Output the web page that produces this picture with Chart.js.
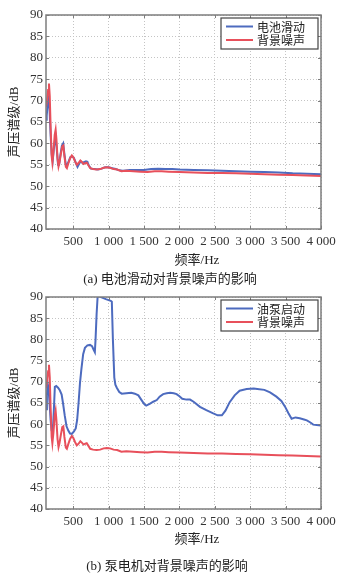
<!DOCTYPE html>
<html>
<head>
<meta charset="utf-8">
<script src="https://cdn.jsdelivr.net/npm/chart.js@4.4.0/dist/chart.umd.min.js"></script>
<style>
body { margin: 0; background: #fff; width: 349px; height: 581px; position: relative; overflow: hidden;
       font-family: "Liberation Serif", "Noto Sans CJK SC", serif; color: #222; }
.cv { position: absolute; left: 0; width: 349px; height: 250px; }
.txt { position: absolute; font-size: 13px; white-space: nowrap; transform: translate(-50%, -50%); }
</style>
</head>
<body>
<div class="cv" style="top:0"><canvas id="chartA"></canvas></div>
<div class="txt" style="left:197px;top:258px">频率/Hz</div>
<div class="txt" style="left:170px;top:277px">(a) 电池滑动对背景噪声的影响</div>
<div class="cv" style="top:282px"><canvas id="chartB"></canvas></div>
<div class="txt" style="left:197px;top:537px">频率/Hz</div>
<div class="txt" style="left:167px;top:564px">(b) 泵电机对背景噪声的影响</div>
<script>
// axis ticks
const xTickValues = [500, 1000, 1500, 2000, 2500, 3000, 3500, 4000];
const xTickLabels = ['500', '1 000', '1 500', '2 000', '2 500', '3 000', '3 500', '4 000'];
const yTickValues = [40, 45, 50, 55, 60, 65, 70, 75, 80, 85, 90];

// background noise (same in both plots)
const noiseFreq = [115, 130, 145, 157, 168, 180, 195, 205, 220, 238, 251, 262, 278, 292, 305, 325, 345, 360, 375, 395,
  410, 430, 455, 480, 500, 525, 550, 575, 600, 625, 645, 670, 690, 710, 740, 780, 830, 880, 930, 975,
  1020, 1070, 1120, 1180, 1250, 1350, 1450, 1550, 1650, 1750, 1850, 2000, 2200, 2400, 2600, 2800, 3000,
  3200, 3400, 3600, 3800, 4000];
const noiseLevel = [68.5, 70, 72.5, 74, 71, 64, 57, 55.5, 58, 62, 63.2, 61, 56.5, 54.6, 55.5, 57.5, 59.3, 59.5, 57, 54.5,
  54.2, 55.3, 56.5, 57.2, 56.8, 55.8, 55, 55.4, 56, 55.6, 55.2, 55.4, 55.5, 55, 54.2, 54, 53.9, 54, 54.3, 54.4,
  54.3, 54.0, 53.9, 53.5, 53.6, 53.5, 53.4, 53.3, 53.5, 53.5, 53.4, 53.3, 53.2, 53.1, 53.1, 53.0, 52.9,
  52.8, 52.7, 52.6, 52.5, 52.4];

// (a) battery sliding
const slideFreq = [115, 125, 140, 152, 165, 180, 195, 210, 230, 250, 265, 285, 300, 320, 340, 358, 375, 395, 410, 435,
  460, 485, 510, 535, 560, 585, 605, 630, 650, 680, 700, 720, 750, 800, 850, 900, 950, 1000, 1050, 1100,
  1150, 1200, 1300, 1400, 1500, 1600, 1700, 1800, 1900, 2000, 2200, 2400, 2600, 2800, 3000, 3200, 3400,
  3600, 3800, 4000];
const slideLevel = [65.5, 66.5, 69.5, 70.5, 68, 62, 57.5, 56, 59.5, 61.5, 59, 55, 55, 57.5, 59.5, 60, 57.5, 55, 54.8, 55.8,
  56.8, 57, 56.6, 55.5, 54.5, 55.3, 55.8, 55.4, 55.6, 55.8, 55.7, 54.8, 54.1, 54, 53.9, 54.1, 54.4, 54.4, 54.2, 54,
  53.7, 53.6, 53.8, 53.8, 53.8, 54, 54.1, 54, 54, 53.9, 53.8, 53.7, 53.6, 53.5, 53.4, 53.3, 53.2,
  53.0, 52.9, 52.8];

// (b) oil pump start
const pumpFreq = [115, 128, 140, 150, 165, 180, 195, 210, 225, 240, 260, 285, 310, 336, 355, 380, 405, 430, 455, 480,
  510, 535, 555, 575, 595, 615, 640, 665, 700, 736, 765, 790, 805, 815, 830, 845, 900, 960, 1030, 1045,
  1060, 1080, 1095, 1115, 1150, 1185, 1250, 1320, 1370, 1420, 1460, 1500, 1530, 1580, 1630, 1680, 1720,
  1770, 1820, 1870, 1920, 1960, 2000, 2040, 2100, 2150, 2200, 2290, 2380, 2470, 2540, 2600, 2650, 2710,
  2780, 2850, 2950, 3050, 3100, 3200, 3280, 3370, 3440, 3490, 3540, 3585, 3640, 3700, 3760, 3800, 3850,
  3890, 3940, 4000];
const pumpLevel = [63.5, 67, 69.5, 68.5, 65, 61, 58.5, 58, 63, 68.8, 69, 68.6, 68, 67, 65, 62, 59.5, 58.5, 57.8, 57.7,
  58.3, 59, 61, 65, 69.7, 73, 76.5, 78, 78.6, 78.7, 78.4, 77.5, 77, 80, 86, 90.3, 89.9, 89.5, 89.1, 88.9,
  80, 71, 69.3, 68.6, 67.6, 67.2, 67.3, 67.4, 67.2, 66.8, 65.8, 64.8, 64.4, 64.8, 65.3, 65.7, 66.5,
  67.1, 67.3, 67.4, 67.3, 67.1, 66.6, 66, 65.8, 65.8, 65.3, 64.1, 63.3, 62.6, 62.1, 62.1, 63.2, 65.2,
  66.8, 67.9, 68.3, 68.4, 68.3, 68.1, 67.5, 66.5, 65.5, 64.2, 62.6, 61.3, 61.6, 61.4, 61.1, 60.9, 60.4,
  59.9, 59.8, 59.7];

const BLUE = '#4d6bbf';
const RED = '#e8505b';
const serif = '"Liberation Serif", "Noto Sans CJK SC", serif';
const cjk = '"Noto Sans CJK SC", sans-serif';

function points(xs, ys) {
  return xs.map((f, i) => ({ x: f, y: ys[i] }));
}

// box, inward ticks and legend drawn MATLAB style
const framePlugin = {
  id: 'frame',
  afterDatasetsDraw(chart) {
    const { ctx, chartArea: a, scales: { x, y } } = chart;
    ctx.save();
    ctx.strokeStyle = '#7d7d7d';
    ctx.lineWidth = 1;
    ctx.beginPath();
    x.ticks.forEach(t => {
      const px = Math.round(x.getPixelForValue(t.value)) + 0.5;
      ctx.moveTo(px, a.bottom); ctx.lineTo(px, a.bottom - 3);
      ctx.moveTo(px, a.top); ctx.lineTo(px, a.top + 3);
    });
    y.ticks.forEach(t => {
      const py = Math.round(y.getPixelForValue(t.value)) + 0.5;
      ctx.moveTo(a.left, py); ctx.lineTo(a.left + 3, py);
      ctx.moveTo(a.right, py); ctx.lineTo(a.right - 3, py);
    });
    ctx.stroke();
    ctx.lineWidth = 1.5;
    ctx.strokeRect(a.left, a.top, a.right - a.left, a.bottom - a.top);

    // legend
    const ds = chart.data.datasets;
    ctx.font = '12px ' + cjk;
    const textW = Math.max(...ds.map(d => ctx.measureText(d.label).width));
    const w = 5 + 27 + 4 + textW + 13;
    const h = 31;
    const bx = a.right - 3 - w;
    const by = a.top + 3;
    ctx.fillStyle = '#fff';
    ctx.fillRect(bx, by, w, h);
    ctx.strokeStyle = '#444';
    ctx.lineWidth = 1.2;
    ctx.strokeRect(bx, by, w, h);
    ds.forEach((d, i) => {
      const ry = by + 8.5 + i * 13.5;
      ctx.strokeStyle = d.borderColor;
      ctx.lineWidth = 2;
      ctx.beginPath();
      ctx.moveTo(bx + 5, ry); ctx.lineTo(bx + 32, ry);
      ctx.stroke();
      ctx.fillStyle = '#222';
      ctx.textBaseline = 'middle';
      ctx.fillText(d.label, bx + 36, ry + 0.5);
    });
    ctx.restore();
  }
};

function makeChart(id, blueLabel, blueData, xHeight) {
  return new Chart(document.getElementById(id), {
    type: 'line',
    data: {
      datasets: [
        { label: blueLabel, data: blueData, borderColor: BLUE, borderWidth: 2, pointRadius: 0, tension: 0, order: 1 },
        { label: '背景噪声', data: points(noiseFreq, noiseLevel), borderColor: RED, borderWidth: 2, pointRadius: 0, tension: 0, order: 0 }
      ]
    },
    options: {
      responsive: true,
      maintainAspectRatio: false,
      animation: false,
      layout: { padding: { top: 15, right: 28, left: 0, bottom: 0 } },
      plugins: { legend: { display: false }, tooltip: { enabled: false } },
      scales: {
        x: {
          type: 'linear',
          min: 115,
          max: 4000,
          afterBuildTicks: s => { s.ticks = xTickValues.map(v => ({ value: v })); },
          afterFit: s => { s.height = xHeight; },
          ticks: {
            autoSkip: false,
            maxRotation: 0,
            padding: 5,
            color: '#333',
            font: { family: serif, size: 13 },
            callback: v => xTickLabels[xTickValues.indexOf(v)]
          },
          grid: { color: '#c4c4c4', drawTicks: false, lineWidth: 1 },
          border: { display: false, dash: [1, 2] }
        },
        y: {
          min: 40,
          max: 90,
          afterBuildTicks: s => { s.ticks = yTickValues.map(v => ({ value: v })); },
          afterFit: s => { s.width = 46; },
          ticks: { padding: 3, color: '#333', font: { family: serif, size: 13 } },
          grid: { color: '#c4c4c4', drawTicks: false, lineWidth: 1 },
          border: { display: false, dash: [1, 2] },
          title: {
            display: true,
            text: '声压谱级/dB',
            color: '#222',
            font: { family: serif, size: 13, lineHeight: 1.2 },
            padding: { top: 7, bottom: 0 }
          }
        }
      }
    },
    plugins: [framePlugin]
  });
}

makeChart('chartA', '电池滑动', points(slideFreq, slideLevel), 21);
makeChart('chartB', '油泵启动', points(pumpFreq, pumpLevel), 23);
</script>
</body>
</html>
